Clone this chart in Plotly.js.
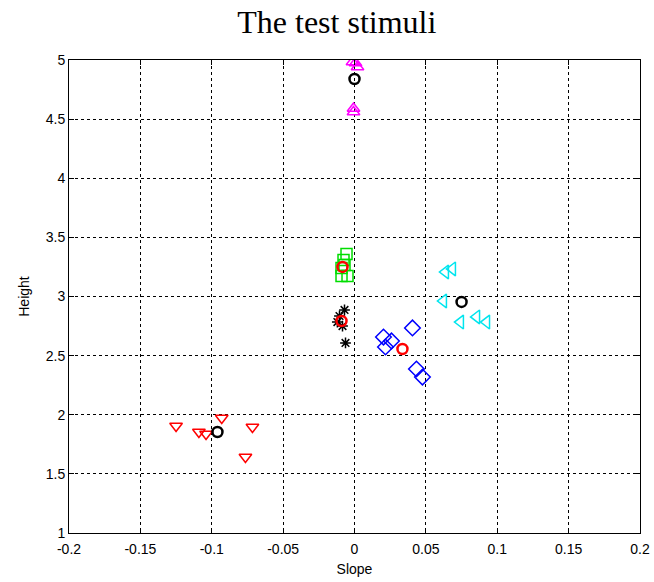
<!DOCTYPE html>
<html>
<head>
<meta charset="utf-8">
<script src="https://cdn.plot.ly/plotly-3.0.1.min.js"></script>
<style>body{margin:0;padding:0;background:#fff}#chart{width:654px;height:582px}</style>
</head>
<body>
<div id="chart"></div>
<script>
// Red down-triangles
const redTriX = [-0.125, -0.109, -0.104, -0.093, -0.0715, -0.0764];
const redTriY = [1.905, 1.854, 1.837, 1.973, 1.896, 1.643];
// Green squares
const greenSqX = [-0.0056, -0.0077, -0.0091, -0.0091, -0.0049, -0.0070];
const greenSqY = [3.359, 3.309, 3.241, 3.173, 3.173, 3.266];
// Black stars
const starX = [-0.0070, -0.0105, -0.0120, -0.0084, -0.0063];
const starY = [2.886, 2.835, 2.784, 2.750, 2.607];
// Blue diamonds
const blueDiaX = [0.0203, 0.0259, 0.0217, 0.0406, 0.0434, 0.0476];
const blueDiaY = [2.657, 2.624, 2.573, 2.734, 2.387, 2.319];
// Cyan left-triangles
const cyanTriX = [0.0637, 0.0686, 0.0623, 0.0742, 0.0855, 0.0925];
const cyanTriY = [3.207, 3.233, 2.962, 2.784, 2.827, 2.784];
// Magenta up-triangles
const magTriX = [-0.0014, 0.0007, 0.0021, -0.0007, -0.0007];
const magTriY = [4.983, 4.975, 4.941, 4.590, 4.560];
// Cluster centres (circles)
const blackCircX = [-0.096, 0.075, 0.0];
const blackCircY = [1.854, 2.954, 4.839];
const redCircX = [-0.0084, -0.0091, 0.0336];
const redCircY = [3.25, 2.793, 2.556];

const xTicks = [-0.2, -0.15, -0.1, -0.05, 0, 0.05, 0.1, 0.15, 0.2];
const xTickText = ['-0.2', '-0.15', '-0.1', '-0.05', '0', '0.05', '0.1', '0.15', '0.2'];
const yTicks = [1, 1.5, 2, 2.5, 3, 3.5, 4, 4.5, 5];
const yTickText = ['1', '1.5', '2', '2.5', '3', '3.5', '4', '4.5', '5'];

function tr(x, y, symbol, color, size) {
  return {
    x: x, y: y, type: 'scatter', mode: 'markers', hoverinfo: 'skip',
    marker: {symbol: symbol, size: size, color: color, line: {color: color, width: 1.5}}
  };
}

const data = [
  tr(redTriX, redTriY, 'triangle-down-open', '#ff0000', 11),
  tr(greenSqX, greenSqY, 'square-open', '#00dd00', 11),
  tr(starX, starY, 'asterisk-open', '#000000', 9),
  tr(blueDiaX, blueDiaY, 'diamond-open', '#0000ff', 12),
  tr(cyanTriX, cyanTriY, 'triangle-left-open', '#00e5ee', 12),
  tr(magTriX, magTriY, 'triangle-up-open', '#ff00ff', 11),
  tr(blackCircX, blackCircY, 'circle-open', '#000000', 10),
  tr(redCircX, redCircY, 'circle-open', '#ff0000', 10)
];
data[6].marker.line.width = 2.5;
data[7].marker.line.width = 2.5;

const axisCommon = {
  showline: true, linecolor: '#000', linewidth: 1, mirror: 'allticks',
  ticks: 'inside', ticklen: 5, tickcolor: '#000',
  showgrid: true, gridcolor: '#000', gridwidth: 1, griddash: '3px,3px',
  zeroline: false,
  tickfont: {family: 'Liberation Sans, Arial, sans-serif', size: 14, color: '#000'}
};

const layout = {
  width: 654, height: 582,
  margin: {l: 69, r: 14, t: 60, b: 49},
  paper_bgcolor: '#fff', plot_bgcolor: '#fff',
  showlegend: false,
  title: {text: 'The test stimuli', x: 0.515, xanchor: 'center', y: 0.962, yanchor: 'middle',
    font: {family: 'Liberation Serif, Times New Roman, serif', size: 32, color: '#000'}},
  xaxis: Object.assign({}, axisCommon, {
    range: [-0.2, 0.2], tickvals: xTicks, ticktext: xTickText, ticklabelstandoff: 3,
    title: {text: 'Slope', standoff: 8, font: {family: 'Liberation Sans, Arial, sans-serif', size: 14, color: '#000'}}
  }),
  yaxis: Object.assign({}, axisCommon, {
    range: [1, 5], tickvals: yTicks, ticktext: yTickText,
    title: {text: 'Height', standoff: 12, font: {family: 'Liberation Sans, Arial, sans-serif', size: 14, color: '#000'}}
  })
};

Plotly.newPlot('chart', data, layout, {displayModeBar: false, staticPlot: true});
</script>
</body>
</html>
